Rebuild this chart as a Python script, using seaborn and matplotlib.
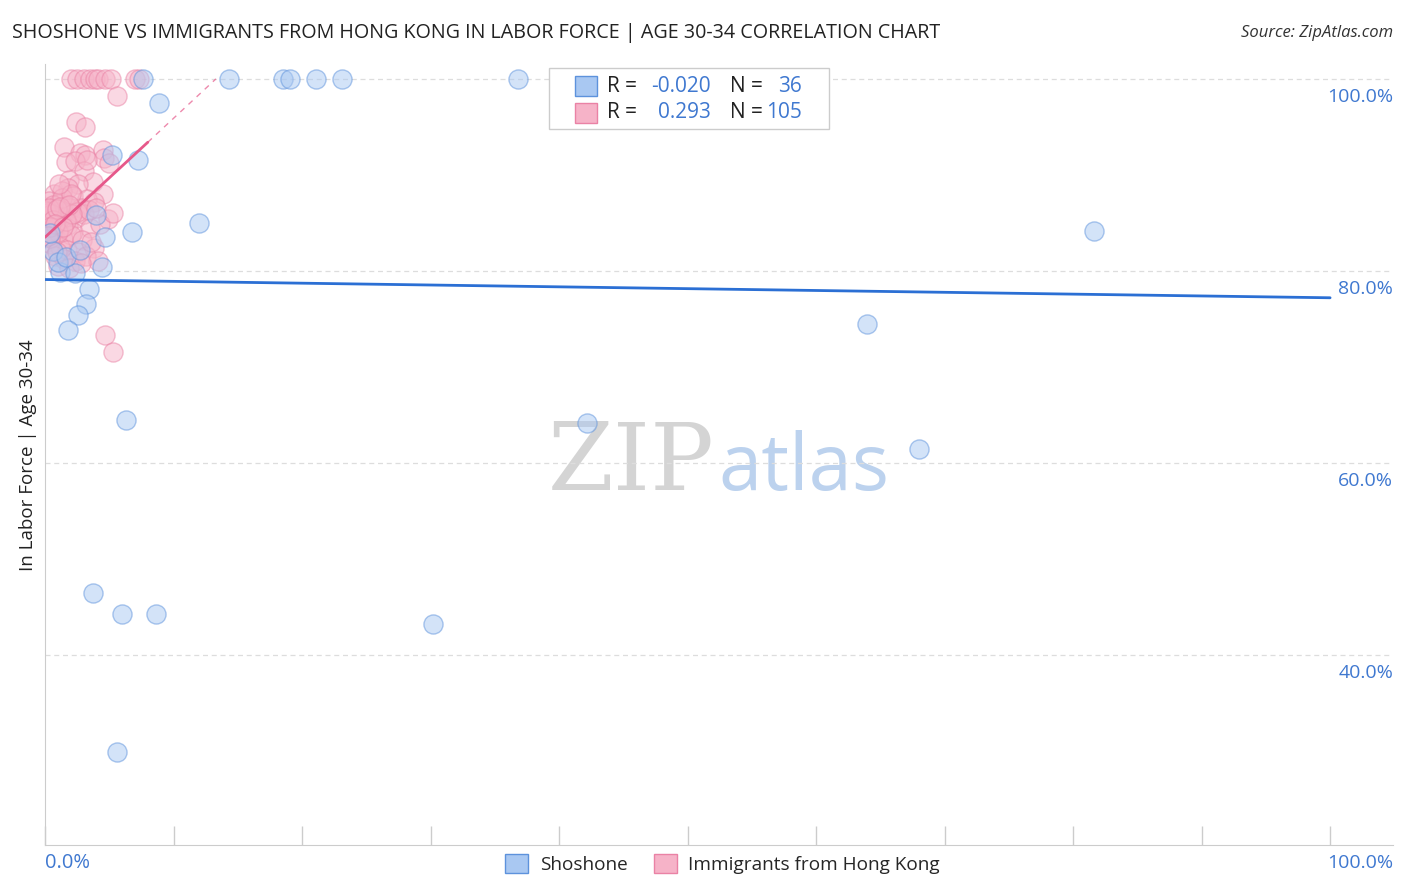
import numpy as np
import pandas as pd
import matplotlib
matplotlib.use("Agg")
import matplotlib.pyplot as plt
import seaborn as sns
from matplotlib.patches import Rectangle

# ---- data ----
shoshone_x = [7.6, 14.3, 18.5, 19.1, 21.1, 23.1, 36.8, 8.9, 5.2, 7.2,
              12.0, 6.8, 4.0, 4.7, 81.6, 0.6, 4.4, 1.2, 2.3, 3.4,
              3.2, 2.6, 1.8, 64.0, 6.3, 42.2, 68.0, 3.7, 6.0, 8.6,
              30.2, 5.6, 0.4, 1.0, 1.6, 2.7]
shoshone_y = [100.0, 100.0, 100.0, 100.0, 100.0, 100.0, 100.0, 97.5, 92.1, 91.5,
              85.0, 84.1, 85.8, 83.5, 84.2, 82.1, 80.4, 79.9, 79.8, 78.1,
              76.6, 75.4, 73.8, 74.5, 64.5, 64.2, 61.5, 46.5, 44.3, 44.3,
              43.2, 29.9, 83.9, 80.9, 81.4, 82.2]

hk_x = [2.0, 2.5, 3.0, 3.5, 3.9, 4.1, 4.7, 5.1, 7.0, 7.3,
        5.6, 2.4, 3.1, 1.5, 2.7, 3.1, 4.5, 1.6, 2.3, 3.0,
        4.6, 5.0, 1.9, 3.7, 2.6, 1.8, 0.7, 1.3, 4.5, 2.2,
        3.3, 3.8, 0.3, 1.0, 1.6, 2.0, 2.8, 0.2, 0.5, 0.8,
        1.2, 1.5, 0.1, 0.4, 0.9, 2.4, 3.0, 4.9, 0.2, 0.6,
        1.1, 1.8, 2.2, 3.5, 4.3, 0.3, 0.7, 1.4, 2.0, 2.9,
        0.1, 0.5, 1.2, 1.7, 2.6, 3.8, 0.8, 1.5, 2.3, 3.2,
        4.1, 1.0, 1.9, 2.8, 0.6, 1.3, 2.5, 3.4, 0.3, 1.0,
        1.6, 2.1, 0.4, 0.9, 3.6, 4.0, 2.0, 1.1, 5.3, 0.2,
        0.7, 0.5, 3.3, 4.7, 5.3, 0.1, 0.3, 0.6, 0.9, 1.2,
        0.4, 0.8, 1.4, 0.2, 1.9]
hk_y = [100.0, 100.0, 100.0, 100.0, 100.0, 100.0, 100.0, 100.0, 100.0, 100.0,
        98.2, 95.5, 95.0, 92.9, 92.3, 92.1, 92.6, 91.3, 91.4, 90.4,
        91.8, 91.2, 89.5, 89.3, 89.0, 88.6, 88.0, 88.3, 88.0, 87.8,
        87.5, 87.2, 87.3, 87.0, 86.8, 86.5, 86.6, 86.4, 86.2, 86.0,
        85.8, 86.0, 85.7, 85.4, 85.2, 85.5, 85.9, 85.4, 84.9, 84.6,
        84.3, 84.8, 84.1, 84.5, 84.9, 84.0, 83.6, 83.3, 83.7, 83.2,
        83.0, 82.8, 82.5, 82.2, 82.0, 82.4, 81.6, 81.2, 81.0, 81.5,
        81.0, 80.5, 80.3, 80.8, 86.9, 87.6, 86.1, 86.3, 85.0, 84.0,
        85.2, 85.9, 83.4, 82.0, 83.0, 86.5, 88.0, 89.0, 86.0, 86.0,
        85.6, 85.9, 91.5, 73.3, 71.6, 86.2, 86.6, 85.3, 86.4, 86.7,
        84.6, 84.9, 84.6, 83.6, 86.9]

# trend lines as drawn in the picture
shoshone_trend_x = [0.0, 100.0]
shoshone_trend_y = [79.1, 77.2]
hk_trend_x = [0.0, 8.0]
hk_trend_y = [83.5, 93.4]
hk_trend_dash_x = [8.0, 13.3]
hk_trend_dash_y = [93.4, 100.0]

y_ticks = [40, 60, 80, 100]
y_tick_labels = ["40.0%", "60.0%", "80.0%", "100.0%"]

legend_rows = [("-0.020", "36"), ("0.293", "105")]
series_names = ["Shoshone", "Immigrants from Hong Kong"]

BLUE_FILL = "#a9c8f2"
BLUE_EDGE = "#5d92dc"
PINK_FILL = "#f6b3c8"
PINK_EDGE = "#ea82a5"
BLUE_LINE = "#2b6fd4"
PINK_LINE = "#e6588a"
LABEL_BLUE = "#3f78d0"

sns.set_style("white")
plt.rcParams["font.family"] = ["Open Sans", "DejaVu Sans"]

fig = plt.figure(figsize=(14.06, 8.92), dpi=100)
ax = fig.add_axes([0.032, 0.0527, 0.9588, 0.875])

df_s = pd.DataFrame({"x": shoshone_x, "y": shoshone_y})
df_h = pd.DataFrame({"x": hk_x, "y": hk_y})

sns.scatterplot(data=df_h, x="x", y="y", ax=ax, s=190, color=PINK_FILL,
                edgecolor=PINK_EDGE, linewidth=1.0, alpha=0.5, zorder=3)
sns.scatterplot(data=df_s, x="x", y="y", ax=ax, s=190, color=BLUE_FILL,
                edgecolor=BLUE_EDGE, linewidth=1.0, alpha=0.5, zorder=3)

sns.lineplot(x=shoshone_trend_x, y=shoshone_trend_y, ax=ax, color=BLUE_LINE,
             linewidth=2, zorder=4)
sns.lineplot(x=hk_trend_x, y=hk_trend_y, ax=ax, color=PINK_LINE,
             linewidth=2, zorder=4)
sns.lineplot(x=hk_trend_dash_x, y=hk_trend_dash_y, ax=ax, color=PINK_LINE,
             linewidth=1, linestyle=(0, (4, 4)), alpha=0.7, zorder=4)

ax.set_xlim(0, 104.9)
ax.set_ylim(20.2, 101.5)

# grid
for v in y_ticks:
    ax.axhline(v, color="#dddddd", linewidth=0.9, linestyle=(0, (4, 3)), zorder=1)

for v, lab in zip(y_ticks, y_tick_labels):
    ax.text(104.9, v - 1.9, lab, ha="right", va="center", fontsize=14,
            color=LABEL_BLUE)

ax.set_xticks(np.arange(0, 101, 10))
ax.set_xticklabels([])
ax.set_yticks([])
ax.tick_params(axis="x", direction="in", length=13.5, width=1, color="#cccccc",
               bottom=True)

for side in ["top", "right"]:
    ax.spines[side].set_visible(False)
ax.spines["left"].set_color("#cccccc")
ax.spines["bottom"].set_color("#cccccc")
ax.set_xlabel("")
ax.set_ylabel("In Labor Force | Age 30-34", fontsize=13.5, color="#222222", labelpad=6)

fig.text(45 / 1406, 1 - 863 / 892, "0.0%", ha="left", va="center", fontsize=14.5,
         color=LABEL_BLUE)
fig.text(1393 / 1406, 1 - 863 / 892, "100.0%", ha="right", va="center", fontsize=14,
         color=LABEL_BLUE)

# watermark
ax.text(52.1, 57.2, "ZIP", ha="right", va="baseline", fontsize=68,
        family="DejaVu Serif", color="#d4d4d4", zorder=0)
ax.text(52.4, 57.2, "atlas", ha="left", va="baseline", fontsize=56,
        color="#bcd2ee", zorder=0)

# title and source
fig.text(12 / 1406, 1 - 33 / 892,
         "SHOSHONE VS IMMIGRANTS FROM HONG KONG IN LABOR FORCE | AGE 30-34 CORRELATION CHART",
         ha="left", va="center", fontsize=14.2, color="#222222")
fig.text(1393 / 1406, 1 - 33 / 892, "Source: ZipAtlas.com", ha="right", va="center",
         fontsize=12, style="italic", color="#333333")

# stats box
W, H = 1406, 892
def fx(px):
    return px / W
def fy(py):
    return 1 - py / H

fig.patches.append(Rectangle((fx(549), fy(129)), fx(829) - fx(549), (129 - 68) / H,
                             transform=fig.transFigure, facecolor="white",
                             edgecolor="#cccccc", linewidth=1, zorder=5))
row_y = [86, 113]
fills = [(BLUE_FILL, BLUE_EDGE), (PINK_FILL, PINK_EDGE)]
for (r, n), yy, (fc, ec) in zip(legend_rows, row_y, fills):
    fig.patches.append(Rectangle((fx(575), fy(yy + 10)), 22 / W, 20 / H,
                                 transform=fig.transFigure, facecolor=fc,
                                 edgecolor=ec, linewidth=1, zorder=6))
    fig.text(fx(607), fy(yy), "R =", ha="left", va="center", fontsize=15,
             color="#222222", zorder=7)
    fig.text(fx(711), fy(yy), r, ha="right", va="center", fontsize=15,
             color=LABEL_BLUE, zorder=7)
    fig.text(fx(730), fy(yy), "N =", ha="left", va="center", fontsize=15,
             color="#222222", zorder=7)
    fig.text(fx(802), fy(yy), n, ha="right", va="center", fontsize=15,
             color=LABEL_BLUE, zorder=7)

# bottom legend
handles = [Rectangle((0, 0), 1, 1, facecolor=BLUE_FILL, edgecolor=BLUE_EDGE),
           Rectangle((0, 0), 1, 1, facecolor=PINK_FILL, edgecolor=PINK_EDGE)]
fig.legend(handles, series_names, loc="center", bbox_to_anchor=(0.514, 1 - 864 / 892),
           ncol=2, frameon=False, fontsize=13.7, handlelength=1.2, handleheight=1.2,
           columnspacing=1.4, handletextpad=0.6)

fig.savefig("out.png", dpi=100)
